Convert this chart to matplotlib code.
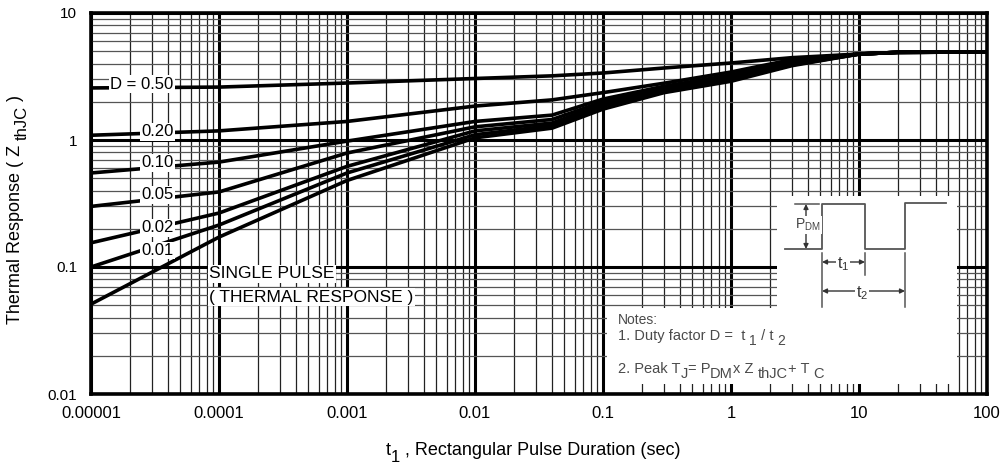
import matplotlib
matplotlib.use("Agg")
import matplotlib.pyplot as plt
from matplotlib.patches import Rectangle
from matplotlib.ticker import FixedLocator, NullFormatter

plt.rcParams["font.family"] = ["Liberation Sans", "DejaVu Sans"]
plt.rcParams["mathtext.default"] = "regular"

# pulse duration (s) at which the curves were read
t_pts = [1e-5, 1e-4, 1e-3, 1e-2, 4e-2, 1e-1, 3e-1, 1, 3, 10, 20, 100]

# thermal response Z_thJC, one list per duty factor
z_d50 = [2.57, 2.61, 2.81, 3.05, 3.20, 3.37, 3.69, 4.04, 4.45, 4.75, 4.90, 4.93]
z_d20 = [1.09, 1.18, 1.40, 1.85, 2.07, 2.36, 2.80, 3.43, 4.30, 4.75, 4.90, 4.93]
z_d10 = [0.55, 0.67, 0.98, 1.40, 1.57, 2.10, 2.65, 3.25, 4.20, 4.75, 4.90, 4.93]
z_d05 = [0.30, 0.39, 0.79, 1.27, 1.45, 2.00, 2.55, 3.13, 4.05, 4.75, 4.90, 4.93]
z_d02 = [0.155, 0.266, 0.62, 1.18, 1.36, 1.92, 2.48, 3.05, 3.95, 4.75, 4.90, 4.93]
z_d01 = [0.10, 0.214, 0.55, 1.10, 1.30, 1.85, 2.42, 2.97, 3.90, 4.75, 4.90, 4.93]
z_single = [0.051, 0.172, 0.48, 1.04, 1.24, 1.75, 2.36, 2.90, 3.85, 4.75, 4.90, 4.93]

curves = [z_d50, z_d20, z_d10, z_d05, z_d02, z_d01, z_single]

duty_labels = ["D = 0.50", "0.20", "0.10", "0.05", "0.02", "0.01"]
duty_label_x = [2.5e-5, 3.3e-5, 3.3e-5, 3.3e-5, 3.3e-5, 3.3e-5]
duty_label_y = [2.76, 1.16, 0.66, 0.37, 0.204, 0.135]

x_ticks = [1e-5, 1e-4, 1e-3, 1e-2, 1e-1, 1, 10, 100]
x_tick_labels = ["0.00001", "0.0001", "0.001", "0.01", "0.1", "1", "10", "100"]
y_ticks = [0.01, 0.1, 1, 10]
y_tick_labels = ["0.01", "0.1", "1", "10"]

W, H = 1003, 466
AX_L, AX_R, AX_T, AX_B = 91, 987, 13, 394


def px2ax(px, py):
    # pixel position in the figure -> axes fraction, for the inset drawing
    return (px - AX_L) / (AX_R - AX_L), (AX_B - py) / (AX_B - AX_T)


def px2fig(px, py):
    return px / W, 1 - py / H


def chain_text(ax, xy, runs, size, sub_size, drop, transform, color="black",
               rotation=0, first_va="baseline"):
    # write text pieces one after another, (text, is_subscript)
    if rotation == 90:
        first = ax.text(*xy, runs[0][0], fontsize=size, transform=transform, color=color,
                        rotation=90, ha="left", va="bottom")
    else:
        first = ax.text(*xy, runs[0][0], fontsize=size, transform=transform, color=color,
                        ha="left", va=first_va)
    prev = first
    for s, sub in runs[1:]:
        fs = sub_size if sub else size
        d = drop if sub else 0
        if rotation == 90:
            prev = ax.annotate(s, xy=(1, 1), xycoords=(first, prev), xytext=(d, 0),
                               textcoords="offset points", fontsize=fs, color=color,
                               rotation=90, ha="right", va="bottom", annotation_clip=False)
        else:
            prev = ax.annotate(s, xy=(1, 0), xycoords=(prev, first), xytext=(0, -d),
                               textcoords="offset points", fontsize=fs, color=color,
                               ha="left", va="bottom", annotation_clip=False)
    return first


fig = plt.figure(figsize=(W / 100, H / 100), dpi=100)
ax = fig.add_axes([AX_L / W, 1 - AX_B / H, (AX_R - AX_L) / W, (AX_B - AX_T) / H])
ax.set_xscale("log")
ax.set_yscale("log")
ax.set_xlim(1e-5, 100)
ax.set_ylim(0.01, 10)

ax.xaxis.set_major_locator(FixedLocator(x_ticks))
ax.yaxis.set_major_locator(FixedLocator(y_ticks))
ax.set_xticklabels(x_tick_labels, fontsize=12)
ax.set_yticklabels(y_tick_labels, fontsize=11)
ax.xaxis.set_minor_formatter(NullFormatter())
ax.yaxis.set_minor_formatter(NullFormatter())
ax.tick_params(which="both", length=0)
ax.tick_params(axis="x", pad=9)
ax.tick_params(axis="y", pad=10)

ax.set_axisbelow(True)
ax.grid(which="major", color="black", linewidth=2.2)
ax.grid(which="minor", axis="x", color="#222222", linewidth=0.9)
ax.grid(which="minor", axis="y", color="#555555", linewidth=0.9)
for sp in ax.spines.values():
    sp.set_linewidth(2.6)

for z in curves:
    ax.plot(t_pts, z, color="black", linewidth=2.6, solid_capstyle="butt", zorder=3)

for lab, lx, ly in zip(duty_labels, duty_label_x, duty_label_y):
    ax.text(lx, ly, lab, fontsize=12, ha="center", va="center", zorder=5,
            bbox=dict(facecolor="white", edgecolor="none", pad=1.0))

ax.text(8.4e-5, 0.0884, "SINGLE PULSE", fontsize=12.5, ha="left", va="center", zorder=5,
        bbox=dict(facecolor="white", edgecolor="none", pad=1.0))
ax.text(8.4e-5, 0.058, "( THERMAL RESPONSE )", fontsize=12.5, ha="left", va="center", zorder=5,
        bbox=dict(facecolor="white", edgecolor="none", pad=1.0))

# white note area (L shaped)
x0, y0 = px2ax(777, 384)
x1, y1 = px2ax(957, 196)
ax.add_patch(Rectangle((x0, y0), x1 - x0, y1 - y0, transform=ax.transAxes,
                       facecolor="white", edgecolor="none", zorder=1))
x0, y0 = px2ax(607, 384)
x1, y1 = px2ax(957, 308)
ax.add_patch(Rectangle((x0, y0), x1 - x0, y1 - y0, transform=ax.transAxes,
                       facecolor="white", edgecolor="none", zorder=1))

pulse_col = "#555555"
pulse_px = [(785, 249), (822, 249), (822, 204), (865, 204), (865, 249),
            (905, 249), (905, 203), (946, 203)]
px_x, px_y = zip(*[px2ax(a, b) for a, b in pulse_px])
ax.plot(px_x, px_y, color=pulse_col, linewidth=1.3, transform=ax.transAxes, zorder=2)


def seg(p, q, **kw):
    a = px2ax(*p)
    b = px2ax(*q)
    ax.plot([a[0], b[0]], [a[1], b[1]], transform=ax.transAxes, zorder=2, **kw)


seg((795, 204), (819, 204), color=pulse_col, linewidth=1.1)
seg((822, 253), (822, 307), color=pulse_col, linewidth=1.1)
seg((865, 253), (865, 275), color=pulse_col, linewidth=1.1)
seg((905, 253), (905, 307), color=pulse_col, linewidth=1.1)


def arrow(p, q):
    ax.annotate("", xy=px2ax(*q), xytext=px2ax(*p), xycoords="axes fraction",
                textcoords="axes fraction", zorder=2,
                arrowprops=dict(arrowstyle="<|-|>", color="#333333", lw=1.0,
                                shrinkA=0, shrinkB=0, mutation_scale=7))


arrow((806, 204), (806, 249))
arrow((822, 262), (865, 262))
arrow((822, 291), (905, 291))

tx, ty = px2ax(808, 225)
ax.text(tx, ty, "P$_{DM}$", transform=ax.transAxes, fontsize=10, color="#444444",
        ha="center", va="center", zorder=4,
        bbox=dict(facecolor="white", edgecolor="none", pad=0.5))
tx, ty = px2ax(843, 264)
ax.text(tx, ty, "t$_1$", transform=ax.transAxes, fontsize=11.5, color="#333333",
        ha="center", va="center", zorder=4,
        bbox=dict(facecolor="white", edgecolor="none", pad=0.5))
tx, ty = px2ax(862, 293)
ax.text(tx, ty, "t$_2$", transform=ax.transAxes, fontsize=11.5, color="#333333",
        ha="center", va="center", zorder=4,
        bbox=dict(facecolor="white", edgecolor="none", pad=0.5))

note_col = "#4a4a4a"
tx, ty = px2ax(618, 324)
ax.text(tx, ty, "Notes:", transform=ax.transAxes, fontsize=10, color=note_col,
        ha="left", va="baseline", zorder=4)
chain_text(ax, px2ax(618, 340),
           [("1. Duty factor D =  t ", False), ("1", True), (" / t ", False), ("2", True)],
           10.5, 10, 3.5, ax.transAxes, color=note_col)
chain_text(ax, px2ax(618, 373),
           [("2. Peak T", False), ("J", True), ("= P", False), ("DM", True),
            ("x Z ", False), ("thJC", True), ("+ T ", False), ("C", True)],
           10.5, 10.5, 3.5, ax.transAxes, color=note_col)

# axis titles with full-size subscripts
chain_text(ax, px2fig(386, 455),
           [("t", False), ("1", True), (" , Rectangular Pulse Duration (sec)", False)],
           13, 12, 4, fig.transFigure)
chain_text(ax, px2fig(7, 324),
           [("Thermal Response ( Z ", False), ("thJC", True), (" )", False)],
           13, 12, 4, fig.transFigure, rotation=90)

fig.savefig("out.png", dpi=100)
